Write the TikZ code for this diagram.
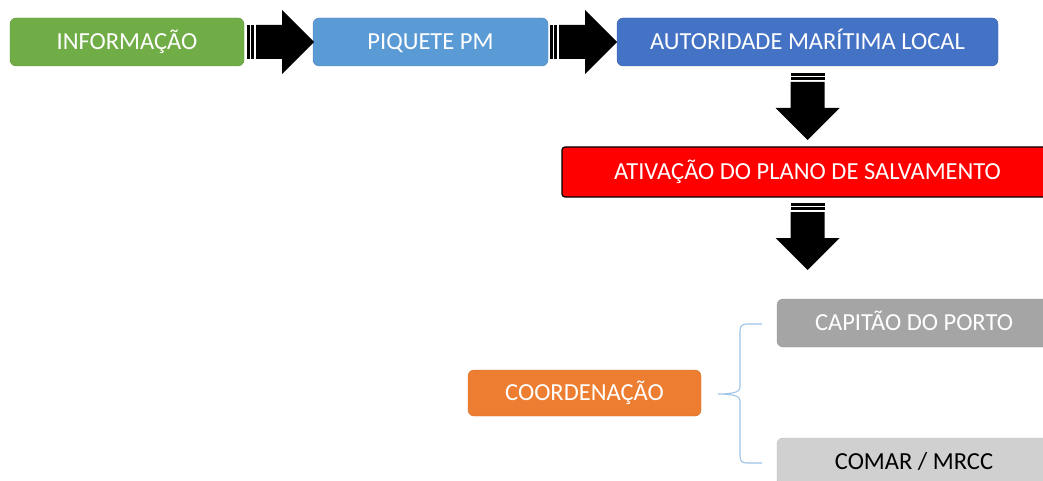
\documentclass[tikz,border=0pt]{standalone}
\usepackage{fontspec}
\setmainfont{Carlito}
\usepackage{xcolor}
\usetikzlibrary{calc}

\definecolor{infogreen}{HTML}{70AD47}
\definecolor{pmblue}{HTML}{5B9BD5}
\definecolor{amblue}{HTML}{4472C4}
\definecolor{coordorange}{HTML}{ED7D31}
\definecolor{cpgray}{HTML}{A5A5A5}
\definecolor{mrccgray}{HTML}{D0D0D0}
\definecolor{bracecol}{HTML}{9DC3E6}

\begin{document}
\begin{tikzpicture}[x=1pt,y=-1pt,
	box/.style={rectangle,rounded corners=6pt,minimum height=48pt,text=white,font=\fontsize{24.5}{29}\selectfont,inner sep=0pt,text height=15.8pt,text depth=0pt},
	% striped block arrow, drawn to the right from its origin
	stripearrow/.pic={
		\fill[black] (0,-17) rectangle (3,17);
		\fill[black] (4,-17) rectangle (7,17);
		\fill[black] (9,-17) -- (35,-17) -- (35,-32) -- (67,0) -- (35,32) -- (35,17) -- (9,17) -- cycle;
	}]
	\useasboundingbox (0,0) rectangle (1043,481);
	\clip (0,0) rectangle (1043,481);

	\node[box] at (127,42) [fill=infogreen,draw=infogreen!85!black,minimum width=234pt] (info) {INFORMAÇÃO};
	\node[box] at (430.5,42) [fill=pmblue,draw=pmblue!85!black,minimum width=235pt] (piquete) {PIQUETE PM};
	\node[box] at (807.5,42) [fill=amblue,draw=amblue!85!black,minimum width=381pt] (autoridade) {AUTORIDADE MARÍTIMA LOCAL};
	\node[box] at (807.5,172) [fill=red,draw=black,line width=1.2pt,rounded corners=3pt,minimum width=491pt,minimum height=50pt] (ativacao) {ATIVAÇÃO DO PLANO DE SALVAMENTO};

	\pic at (247,42) {stripearrow};
	\pic at (550,42) {stripearrow};
	\pic[rotate=-90] at (807.5,73) {stripearrow};
	\pic[rotate=-90] at (807.5,203) {stripearrow};

	\node[box] at (584.5,393) [fill=coordorange,draw=coordorange!90!black,minimum width=233pt,minimum height=46pt] (coord) {COORDENAÇÃO};
	\node[box] at (914,323) [fill=cpgray,draw=cpgray!90!black,minimum width=274pt] (capitao) {CAPITÃO DO PORTO};
	\node[box] at (914,462) [fill=mrccgray,draw=mrccgray!90!black,minimum width=274pt,text=black] (comar) {COMAR / MRCC};

	% brace from coordination to the two authorities
	\coordinate (bracetip) at ($(coord.east)+(17,1)$);
	\coordinate (bracetop) at ($(capitao.west)+(-15,1)$);
	\coordinate (bracebot) at ($(comar.west)+(-15,1)$);
	\draw[bracecol,line width=1.1pt] (bracetop) -- (747,324) .. controls (742,324) and (740,326) .. (740,331) -- (740,387)
		.. controls (740,391) and (736,394) .. (bracetip) .. controls (736,394) and (740,397) .. (740,401)
		-- (740,456) .. controls (740,461) and (742,463) .. (747,463) -- (bracebot);
\end{tikzpicture}
\end{document}
